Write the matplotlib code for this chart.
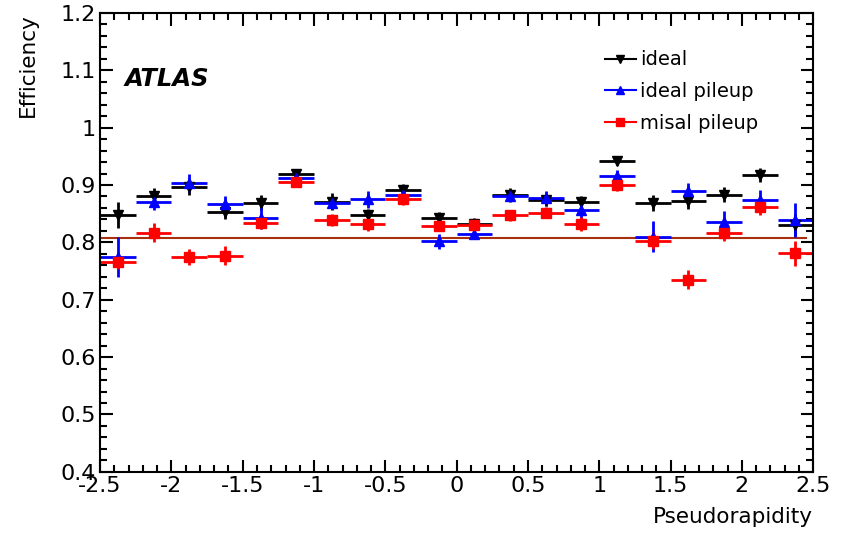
import numpy as np
import matplotlib.pyplot as plt
from matplotlib.ticker import MultipleLocator
from matplotlib.lines import Line2D

plt.rcParams['font.family'] = ['DejaVu Sans']

# Pseudorapidity bins: 20 bins of width 0.25 over |eta| < 2.5
bin_edges = np.linspace(-2.5, 2.5, 21)
eta = 0.5 * (bin_edges[:-1] + bin_edges[1:])
half_width = 0.125

ideal = [0.848, 0.880, 0.897, 0.853, 0.869, 0.919, 0.871, 0.847, 0.891, 0.843,
         0.832, 0.882, 0.873, 0.870, 0.942, 0.868, 0.872, 0.883, 0.917, 0.830]
ideal_err = [0.023, 0.014, 0.014, 0.013, 0.013, 0.008, 0.015, 0.011, 0.010, 0.010,
             0.010, 0.012, 0.010, 0.010, 0.008, 0.014, 0.014, 0.013, 0.012, 0.019]

ideal_pileup = [0.774, 0.871, 0.904, 0.866, 0.842, 0.912, 0.869, 0.875, 0.882, 0.802,
                0.815, 0.880, 0.877, 0.857, 0.916, 0.810, 0.890, 0.836, 0.873, 0.839]
ideal_pileup_err = [0.035, 0.014, 0.016, 0.015, 0.019, 0.008, 0.010, 0.015, 0.010, 0.013,
                    0.010, 0.008, 0.013, 0.016, 0.010, 0.027, 0.013, 0.019, 0.019, 0.030]

misal_pileup = [0.765, 0.817, 0.774, 0.777, 0.833, 0.906, 0.839, 0.832, 0.875, 0.829,
                0.830, 0.847, 0.852, 0.832, 0.900, 0.803, 0.735, 0.816, 0.861, 0.781]
misal_pileup_err = [0.012, 0.016, 0.014, 0.016, 0.010, 0.008, 0.010, 0.012, 0.010, 0.010,
                    0.010, 0.010, 0.010, 0.012, 0.010, 0.015, 0.016, 0.014, 0.014, 0.022]

reference_level = 0.807

fig = plt.figure(figsize=(8.41, 5.35), dpi=100)
ax = fig.add_axes([0.119, 0.118, 0.848, 0.858])

series = [
    (ideal, ideal_err, 'black', 'v', 'ideal'),
    (ideal_pileup, ideal_pileup_err, 'blue', '^', 'ideal pileup'),
    (misal_pileup, misal_pileup_err, 'red', 's', 'misal pileup'),
]
handles = []
for vals, errs, color, marker, label in series:
    ax.errorbar(eta, vals, xerr=half_width, yerr=errs, fmt=marker, color=color,
                markersize=7, elinewidth=2, capsize=0)
    handles.append(Line2D([], [], color=color, marker=marker, markersize=6, lw=1.5,
                          label=label))

# flat reference efficiency
ax.plot([-2.5, 2.45], [reference_level, reference_level], color='#a8300e', lw=1.5, zorder=1)

ax.set_xlim(-2.5, 2.5)
ax.set_ylim(0.4, 1.2)
ax.xaxis.set_major_locator(MultipleLocator(0.5))
ax.xaxis.set_minor_locator(MultipleLocator(0.1))
ax.yaxis.set_major_locator(MultipleLocator(0.1))
ax.yaxis.set_minor_locator(MultipleLocator(0.02))
ax.tick_params(which='both', direction='in', top=True, right=True, width=1.5,
               labelsize=16, pad=3)
ax.tick_params(which='major', length=9)
ax.tick_params(which='minor', length=5)
for s in ax.spines.values():
    s.set_linewidth(1.5)

ax.yaxis.set_major_formatter(plt.FuncFormatter(lambda v, p: f'{v:g}'))
ax.xaxis.set_major_formatter(plt.FuncFormatter(lambda v, p: f'{v:g}'))

ax.set_xlabel('Pseudorapidity', fontsize=15.5, loc='right', labelpad=8)
ax.set_ylabel('Efficiency', fontsize=15.5, loc='top', labelpad=16)

ax.text(-2.33, 1.085, 'ATLAS', fontsize=17.5, fontweight='bold', fontstyle='italic',
        va='center', ha='left')

ax.legend(handles=handles, loc='upper left', bbox_to_anchor=(0.697, 0.935), frameon=False,
          fontsize=14, handlelength=1.6, handletextpad=0.2, labelspacing=0.65,
          borderaxespad=0)

fig.savefig('out.png', dpi=100)
